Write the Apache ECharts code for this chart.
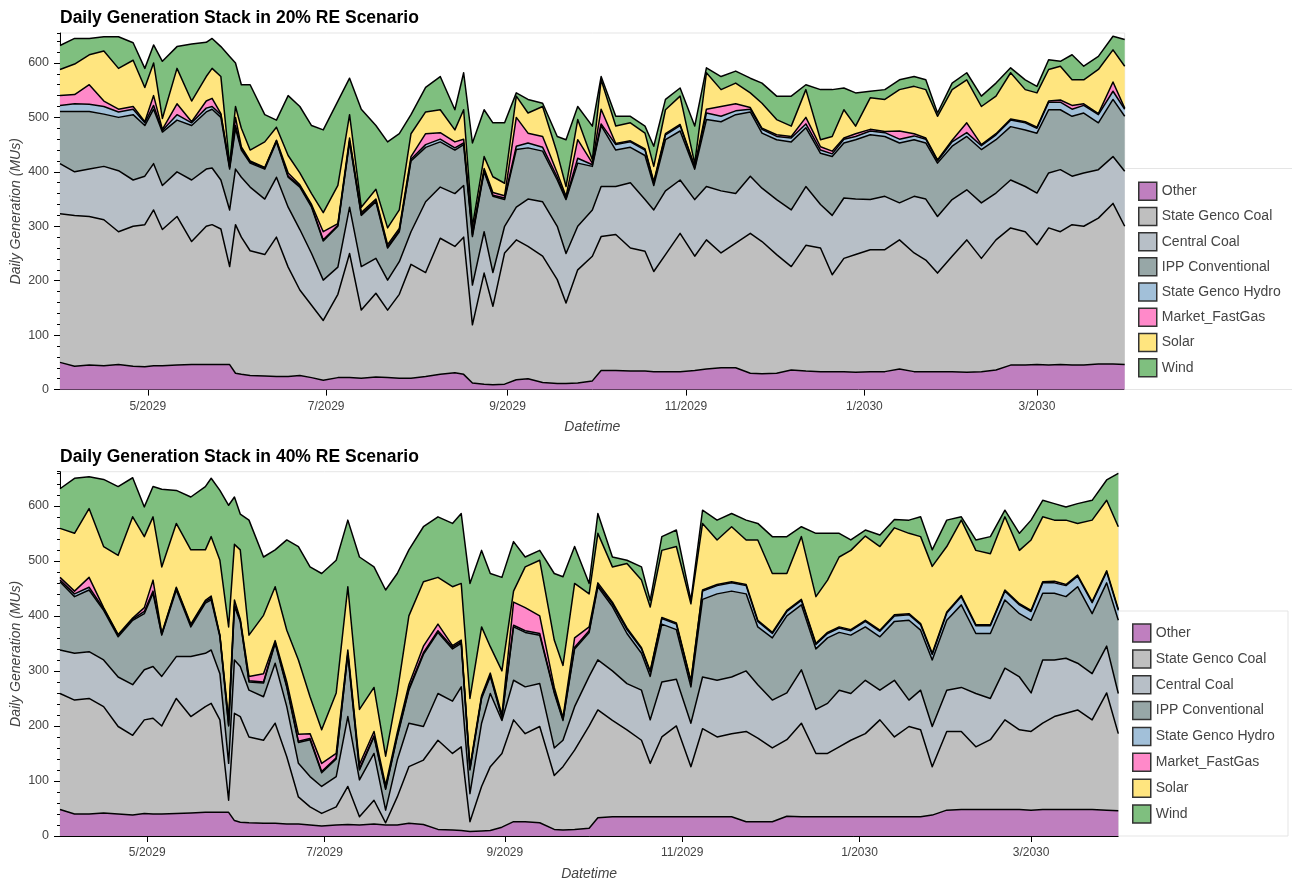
<!DOCTYPE html>
<html><head><meta charset="utf-8">
<script src="https://cdn.jsdelivr.net/npm/echarts@6.0.0/dist/echarts.min.js"></script>
<style>html,body{margin:0;padding:0;background:#fff}#c{width:1292px;height:881px}</style>
</head><body><div id="c"></div>
<script>
// sample dates (daily data at these dates)
const dates = ['2029-04-01','2029-04-06','2029-04-11','2029-04-16','2029-04-21','2029-04-26','2029-04-30','2029-05-03','2029-05-06','2029-05-11',
'2029-05-16','2029-05-21','2029-05-23','2029-05-26','2029-05-29','2029-05-31','2029-06-02','2029-06-05','2029-06-10','2029-06-14',
'2029-06-18','2029-06-22','2029-06-26','2029-06-30','2029-07-05','2029-07-09','2029-07-13','2029-07-18','2029-07-22','2029-07-26',
'2029-07-30','2029-08-04','2029-08-09','2029-08-14','2029-08-17','2029-08-20','2029-08-24','2029-08-27','2029-08-31','2029-09-04',
'2029-09-08','2029-09-13','2029-09-18','2029-09-21','2029-09-25','2029-09-30','2029-10-03','2029-10-08','2029-10-13','2029-10-18',
'2029-10-21','2029-10-25','2029-10-30','2029-11-04','2029-11-08','2029-11-13','2029-11-18','2029-11-23','2029-11-27','2029-12-02',
'2029-12-07','2029-12-12','2029-12-17','2029-12-21','2029-12-25','2029-12-29','2030-01-03','2030-01-08','2030-01-13','2030-01-18',
'2030-01-22','2030-01-26','2030-01-31','2030-02-05','2030-02-10','2030-02-15','2030-02-20','2030-02-25','2030-03-01','2030-03-05',
'2030-03-09','2030-03-13','2030-03-17','2030-03-22','2030-03-27','2030-03-31'];

const seriesNames = ['Other','State Genco Coal','Central Coal','IPP Conventional','State Genco Hydro','Market_FastGas','Solar','Wind'];

// ---- 20% RE scenario (MUs) ----
const other20 = [50,43,45,44,46,43,42,44,44,45, 46,46,46,46,46,30,28,26,25,24, 24,26,22,17,22,22,21,23,22,21, 21,24,28,31,28,12,10,9,10,18, 20,13,11,11,12,16,35,35,34,34, 33,33,33,35,38,40,40,30,29,30, 36,34,33,33,33,32,33,33,38,33, 33,33,33,32,33,36,45,45,46,45, 46,45,45,47,47,46];
const sgCoal20 = [273,277,273,268,244,257,261,286,250,273, 226,254,257,249,180,273,252,229,223,256, 201,157,133,110,153,228,125,154,124,154, 209,191,250,232,252,107,204,144,241,257, 243,232,191,148,208,229,246,250,226,220, 184,215,254,210,237,211,229,257,243,218, 190,231,227,178,208,216,224,224,237,218, 205,181,212,243,208,239,252,245,220,252, 244,258,255,268,295,254];
const centralCoal20 = [92,80,87,98,112,85,89,85,81,82, 113,105,104,90,104,102,110,117,102,110, 110,111,95,74,50,85,80,64,55,60, 60,130,94,97,95,73,76,62,49,60, 87,100,98,91,80,85,92,88,120,95, 113,117,98,104,98,114,91,105,98,101, 104,108,80,109,111,102,92,98,68,104, 112,104,104,92,102,86,88,83,95,101, 114,89,98,89,86,101];
const ipp20 = [96,111,106,96,98,120,93,100,98,95, 100,105,108,115,75,75,50,44,55,65, 55,78,85,72,75,120,94,104,59,55, 130,100,83,80,75,89,110,140,49,106, 94,93,85,99,116,80,112,67,65,81, 45,94,90,56,123,127,145,118,101,110, 125,108,94,108,101,109,119,110,110,104, 103,98,98,98,98,98,98,104,110,116, 110,110,110,86,105,101];
const hydro20 = [11,14,13,14,10,10,5,7,3,10, 5,7,5,5,3,5,3,2,2,2, 2,2,2,2,2,2,2,2,2,2, 3,5,5,4,3,3,2,2,3,6, 9,7,5,2,9,3,3,10,10,10, 5,9,10,3,12,10,7,5,7,6, 7,7,6,5,7,6,7,7,7,7, 7,4,8,7,7,9,12,13,9,14, 14,13,14,15,15,13];
const fastGas20 = [18,17,36,10,5,5,2,18,2,20, 2,13,15,2,2,15,3,2,1,1, 6,2,3,15,3,5,3,3,4,4, 5,20,12,11,7,4,4,5,4,53, 18,20,8,4,34,3,27,2,2,2, 2,2,2,2,7,18,13,3,2,3, 3,12,6,5,2,5,3,2,15,4, 2,2,3,18,2,2,2,2,2,2, 4,7,3,2,17,2];
const solar20 = [48,56,55,92,75,85,63,60,20,65, 38,45,55,68,2,20,34,20,47,24, 32,22,20,35,70,43,10,18,31,34, 42,40,42,22,54,12,22,29,23,39, 37,55,36,18,37,6,54,32,33,29, 28,44,52,5,67,31,38,27,46,28, 19,51,13,27,52,14,58,59,76,87, 89,80,93,79,70,69,85,59,63,58, 62,47,44,81,59,77];
const wind20 = [44,47,30,26,58,32,35,33,105,40, 105,63,55,55,200,80,80,120,50,13, 110,122,125,152,155,67,180,117,158,140, 35,45,61,37,68,153,86,99,111,6, 25,6,31,86,24,62,6,18,12,13, 37,19,15,69,9,24,22,27,37,43, 55,9,92,86,40,61,12,18,18,18, 18,6,12,13,19,24,9,18,12,18, 9,46,25,24,25,49];

// ---- 40% RE scenario (MUs) ----
const other40 = [48,40,40,42,40,38,41,40,40,41, 42,43,43,43,43,28,25,24,23,23, 22,22,20,18,20,21,20,22,20,20, 23,21,12,11,10,8,9,10,16,26, 26,24,12,11,12,14,33,35,35,35, 35,35,35,35,35,35,35,26,26,26, 36,35,35,35,35,35,35,35,35,35, 35,38,47,48,48,48,48,48,47,48, 48,48,48,48,47,46];
const sgCoal40 = [211,207,210,193,159,145,170,174,160,209, 175,192,198,168,22,195,192,156,151,182, 122,49,33,23,33,69,15,43,4,51, 103,117,162,139,152,18,81,116,134,185, 160,175,98,115,144,186,196,175,158,139, 97,145,165,91,160,145,151,164,152,134, 139,170,115,115,127,139,151,176,145,164, 158,88,143,142,114,127,163,145,143,157, 169,175,181,163,213,140];
const centralCoal40 = [79,85,85,85,90,92,91,94,90,76, 109,97,97,84,67,97,91,85,79,109, 91,61,55,49,55,127,67,85,23,67, 79,61,85,95,109,51,115,133,60,72, 85,78,50,48,79,90,91,90,84,91, 79,100,85,79,94,103,103,110,97,87, 85,97,80,91,103,85,97,54,103,48, 72,73,75,80,97,75,94,96,70,115, 103,100,85,84,85,73];
const ipp40 = [124,103,112,90,73,117,102,133,75,121, 54,91,91,67,68,97,82,15,25,36, 35,38,67,25,32,113,18,30,38,42, 60,131,111,95,79,43,45,31,5,97, 99,88,100,36,105,80,133,117,91,67, 79,105,90,66,141,157,156,140,105,113, 140,118,110,119,105,106,97,97,107,145, 109,121,127,150,109,118,124,115,132,121, 121,112,139,109,115,133];
const hydro40 = [3,5,5,3,3,2,4,4,2,3, 3,3,3,2,2,3,2,2,2,2, 2,2,2,2,2,2,2,2,2,2, 3,3,3,3,3,2,2,2,2,3, 3,3,2,2,3,3,3,5,7,8, 8,10,10,9,15,15,15,15,10,8, 8,8,8,8,8,8,10,10,10,10, 10,10,13,15,14,14,16,16,16,19, 19,20,19,20,20,18];
const fastGas40 = [5,5,18,2,1,2,7,20,1,2, 2,2,4,1,9,9,2,8,15,3, 8,13,9,15,8,6,8,8,5,6, 7,12,12,3,3,3,3,4,3,42, 42,32,8,3,17,7,4,3,3,2, 2,2,2,2,2,2,2,2,2,2, 2,2,2,2,2,2,2,2,2,2, 2,2,2,2,2,2,2,2,2,2, 3,2,2,2,2,2];
const solar40 = [89,105,125,111,144,184,129,115,121,116, 135,92,108,136,169,101,126,75,106,98, 94,135,67,61,110,115,100,80,53,72, 125,117,85,107,103,125,125,48,80,20, 74,101,86,95,99,60,90,64,117,123, 116,122,139,140,121,81,100,81,146,107, 67,114,85,95,127,144,153,152,158,146, 158,158,119,137,135,129,133,97,128,118, 111,117,94,148,128,150];
const wind40 = [72,100,58,122,125,71,54,55,141,60, 96,115,106,127,221,86,65,209,106,67, 164,206,236,284,241,121,277,219,302,217, 120,100,110,115,127,209,139,133,170,90, 18,18,121,161,67,19,36,18,6,24, 12,25,30,6,24,36,24,36,30,67, 67,18,115,85,43,19,11,21,15,24, 36,30,48,6,19,31,12,31,36,30, 30,24,36,36,37,97];

const yTickValues = [0,100,200,300,400,500,600];
const titles = ['Daily Generation Stack in 20% RE Scenario','Daily Generation Stack in 40% RE Scenario'];

const colors = ['#bf7fbf','#bfbfbf','#b7bfc7','#97a7a7','#a2c0d9','#ff89c9','#ffe57f','#7fbf7f'];
const FONT = '"Liberation Sans", Arial, Helvetica, sans-serif';

const toTs = s => { const p = s.split('-').map(Number); return new Date(p[0], p[1]-1, p[2]).getTime(); };
const xMin = toTs('2029-04-01'), xMax = toTs('2030-03-31');
const DAY = 86400000;
const fmt = v => { const d = new Date(v); return (d.getMonth()+1) + '/' + d.getFullYear(); };

const top20 = [other20, sgCoal20, centralCoal20, ipp20, hydro20, fastGas20, solar20, wind20];
const bot40 = [other40, sgCoal40, centralCoal40, ipp40, hydro40, fastGas40, solar40, wind40];

function makeSeries(vals, xi, yi, stack) {
  return seriesNames.map((name, i) => ({
    name, type: 'line', stack, xAxisIndex: xi, yAxisIndex: yi,
    data: dates.map((d, j) => [toTs(d), vals[i][j]]),
    symbol: 'none', showSymbol: false, smooth: false,
    color: colors[i], itemStyle: { color: colors[i] },
    lineStyle: { color: '#000', width: 1.5, join: 'round' },
    areaStyle: { color: colors[i], opacity: 1 },
    emphasis: { disabled: true }, silent: true, animation: false
  }));
}

function xAxisDef(gi) {
  return {
    gridIndex: gi, type: 'time', min: xMin, max: xMax, splitNumber: 5,
    minInterval: 50 * DAY, maxInterval: 80 * DAY,
    axisLine: { show: true, onZero: false, lineStyle: { color: '#000', width: 1 } },
    axisTick: { show: true, length: 6, inside: false, lineStyle: { color: '#000' } },
    axisLabel: { formatter: fmt, color: '#444', fontSize: 12, margin: 11, fontFamily: FONT, showMinLabel: false, showMaxLabel: false },
    splitLine: { show: false }, minorTick: { show: false },
    name: 'Datetime', nameLocation: 'middle', nameGap: 31, nameMoveOverlap: false,
    nameTextStyle: { fontStyle: 'italic', fontSize: 14, color: '#444', fontFamily: FONT }
  };
}
function yAxisDefs(gi, max) {
  return [{
    gridIndex: gi, type: 'value', min: 0, max: max, interval: 100,
    axisLine: { show: true, onZero: false, lineStyle: { color: '#000', width: 1 } },
    axisTick: { show: true, length: 6, customValues: yTickValues, lineStyle: { color: '#000' } },
    axisLabel: { customValues: yTickValues, color: '#444', fontSize: 12.5, margin: 11, fontFamily: FONT },
    splitLine: { show: false },
    name: 'Daily Generation (MUs)', nameLocation: 'middle', nameGap: 37, nameRotate: 90, nameMoveOverlap: false,
    nameTextStyle: { fontStyle: 'italic', fontSize: 14, color: '#444', fontFamily: FONT }
  }, {
    gridIndex: gi, type: 'value', min: 0, max: max, interval: 20, position: 'left', offset: 0,
    axisLine: { show: false }, axisTick: { show: true, length: 3, lineStyle: { color: '#000' } },
    axisLabel: { show: false }, splitLine: { show: false }
  }];
}
function legendDef(left, top, gap) {
  return {
    orient: 'vertical', left, top, padding: 0, itemWidth: 18, itemHeight: 18, itemGap: gap,
    icon: 'rect', selectedMode: false,
    data: seriesNames.map((n, i) => ({ name: n, itemStyle: { color: colors[i], borderColor: '#333', borderWidth: 1.5 } })),
    textStyle: { color: '#444', fontSize: 14, lineHeight: 18, fontFamily: FONT }
  };
}

const chart = echarts.init(document.getElementById('c'), null, { renderer: 'canvas', width: 1292, height: 881 });
chart.setOption({
  animation: false,
  backgroundColor: '#fff',
  textStyle: { fontFamily: FONT },
  title: [
    { text: titles[0], left: 60, top: 9.5, padding: 0, textStyle: { fontSize: 17.5, fontWeight: 'bold', color: '#000', fontFamily: FONT } },
    { text: titles[1], left: 60, top: 448, padding: 0, textStyle: { fontSize: 17.5, fontWeight: 'bold', color: '#000', fontFamily: FONT } }
  ],
  grid: [
    { left: 60, top: 33, width: 1064.7, height: 356.6, containLabel: false, outerBoundsMode: 'none', show: true, borderColor: '#e5e5e5', borderWidth: 1, backgroundColor: '#fff' },
    { left: 60, top: 471.7, width: 1058.3, height: 364.3, containLabel: false, outerBoundsMode: 'none', show: true, borderColor: '#e5e5e5', borderWidth: 1, backgroundColor: '#fff' }
  ],
  xAxis: [xAxisDef(0), xAxisDef(1)],
  yAxis: [...yAxisDefs(0, 655), ...yAxisDefs(1, 662)],
  legend: [legendDef(1138, 181.5, 5.7), legendDef(1132, 623.3, 6.35)],
  graphic: [
    { type: 'rect', z: 1, shape: { x: 1124.5, y: 168.5, width: 180, height: 221 }, style: { fill: '#fff', stroke: '#e5e5e5', lineWidth: 1 } },
    { type: 'rect', z: 1, shape: { x: 1118.5, y: 611, width: 169.5, height: 225 }, style: { fill: '#fff', stroke: '#e5e5e5', lineWidth: 1 } }
  ],
  series: [...makeSeries(top20, 0, 0, 'top'), ...makeSeries(bot40, 1, 2, 'bottom')]
});
</script>
</body></html>
